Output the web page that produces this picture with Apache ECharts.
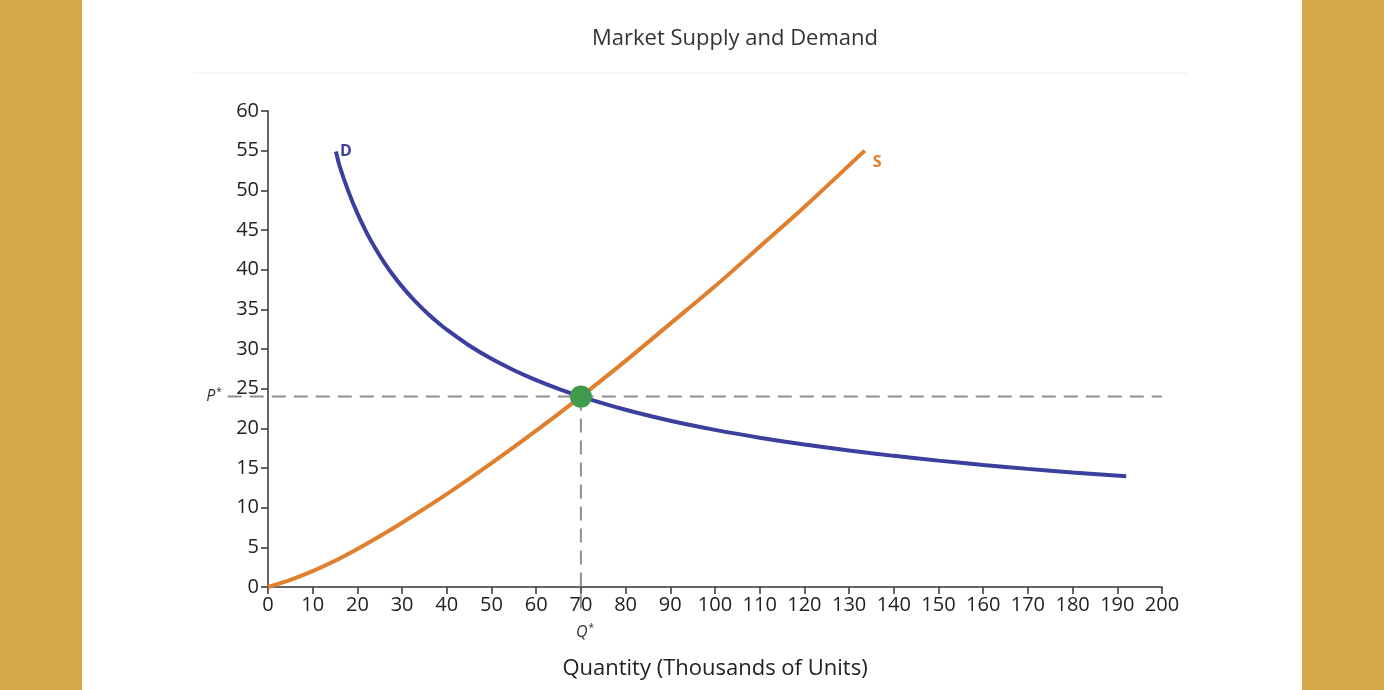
<!DOCTYPE html>
<html>
<head>
<meta charset="utf-8">
<script src="https://cdn.jsdelivr.net/npm/echarts@6/dist/echarts.min.js"></script>
<style>
  html, body { margin: 0; padding: 0; background: #d4a84b; }
  #chart { position: absolute; left: 82px; top: 0; width: 1220px; height: 690px; background: #fff; }
</style>
</head>
<body>
<div id="chart"></div>
<script>
// values (price in $, quantity in thousands)
var demandQty   = [192, 180, 170, 160, 150, 140, 130, 120, 110, 100, 90, 80, 70, 65, 60, 55, 50, 45, 40, 38, 36, 34, 32, 30, 28, 26, 24, 22, 20, 18, 16, 15.2];
var demandPrice = [13.95, 14.44, 14.89, 15.38, 15.93, 16.53, 17.2, 17.96, 18.82, 19.81, 20.96, 22.34, 24, 24.98, 26.08, 27.33, 28.76, 30.44, 32.43, 33.34, 34.32, 35.4, 36.57, 37.86, 39.29, 40.89, 42.69, 44.74, 47.09, 49.84, 53.1, 54.9];
var supplyQty   = [0, 5, 10, 15, 20, 25, 30, 40, 50, 60, 70, 80, 90, 100, 110, 120, 133.5];
var supplyPrice = [0, 0.9, 2, 3.3, 4.8, 6.4, 8.1, 11.7, 15.6, 19.7, 24, 28.5, 33.2, 37.9, 42.9, 47.9, 55];
var eqQty = 70;
var eqPrice = 24;
var guideStartQty = -9;   // the P* guide starts left of the y axis
var guideEndPrice = -3.3; // the Q* guide runs below the x axis
var xTicks = { min: 0, max: 200, step: 10 };
var yTicks = { min: 0, max: 60, step: 5 };

var font = "'Open Sans', 'DejaVu Sans', sans-serif";
var guideColor = '#909090';

function pairs(xs, ys) {
    var out = [];
    for (var i = 0; i < xs.length; i++) {
        out.push([xs[i], ys[i]]);
    }
    return out;
}

var starRich = {
    i: { fontFamily: font, fontStyle: 'italic', fontSize: 16, fill: '#333', color: '#333' },
    s: { fontFamily: font, fontSize: 10, fill: '#333', color: '#333', verticalAlign: 'top', padding: [0, 0, 8, 1] }
};

var chart = echarts.init(document.getElementById('chart'));

var option = {
    animation: false,
    title: {
        text: 'Market Supply and Demand',
        left: 505,
        top: 23,
        textStyle: { fontFamily: font, fontSize: 22, fontWeight: 'normal', color: '#333' }
    },
    grid: { left: 186, right: 140, top: 111, bottom: 103 },
    xAxis: {
        type: 'value',
        min: xTicks.min,
        max: xTicks.max,
        interval: xTicks.step,
        name: 'Quantity (Thousands of Units)',
        nameLocation: 'middle',
        nameGap: 71,
        nameTextStyle: { fontFamily: font, fontSize: 22, color: '#222' },
        axisLine: { show: true, lineStyle: { color: '#333', width: 1.5 } },
        axisTick: { show: true, length: 7, lineStyle: { color: '#333', width: 1.5 } },
        axisLabel: { fontFamily: font, fontSize: 20, color: '#222', margin: 8 },
        splitLine: { show: false }
    },
    yAxis: {
        type: 'value',
        min: yTicks.min,
        max: yTicks.max,
        interval: yTicks.step,
        axisLine: { show: true, lineStyle: { color: '#333', width: 1.5 } },
        axisTick: { show: true, length: 7, lineStyle: { color: '#333', width: 1.5 } },
        axisLabel: { fontFamily: font, fontSize: 20, color: '#222', margin: 9 },
        splitLine: { show: false }
    },
    series: [
        {
            // vertical Q* guide
            type: 'line',
            data: [[eqQty, eqPrice], [eqQty, guideEndPrice]],
            clip: false,
            symbol: 'none',
            silent: true,
            lineStyle: { color: guideColor, width: 2, type: [14, 8] },
            endLabel: {
                show: true,
                formatter: '{i|Q}{s|*}',
                offset: [-13, 19],
                rich: starRich
            },
            z: 1
        },
        {
            name: 'D',
            type: 'line',
            smooth: 0.25,
            symbol: 'none',
            data: pairs(demandQty, demandPrice),
            lineStyle: { color: '#3b3f9e', width: 4 },
            endLabel: {
                show: true,
                formatter: 'D',
                offset: [-4, 0],
                fontFamily: font, fontSize: 16, fontWeight: 'bold', color: '#3b3f9e'
            },
            z: 3
        },
        {
            name: 'S',
            type: 'line',
            smooth: 0.25,
            symbol: 'none',
            data: pairs(supplyQty, supplyPrice),
            lineStyle: { color: '#e07f2e', width: 4 },
            endLabel: {
                show: true,
                formatter: 'S',
                offset: [0, 12],
                fontFamily: font, fontSize: 16, fontWeight: 'bold', color: '#e07f2e'
            },
            z: 3
        },
        {
            type: 'scatter',
            data: [[eqQty, eqPrice]],
            symbolSize: 22,
            itemStyle: { color: '#3f9a4c', opacity: 1 },
            z: 5
        }
    ]
};

chart.setOption(option);

// horizontal P* guide: it leaves the plot area, so place it from the axis scale
var pStart = chart.convertToPixel({ gridIndex: 0 }, [guideStartQty, eqPrice]);
var pEnd = chart.convertToPixel({ gridIndex: 0 }, [xTicks.max, eqPrice]);

chart.setOption({
    graphic: [
        {
            type: 'line',
            shape: { x1: 112, y1: 73, x2: 1106, y2: 73 },
            style: { stroke: '#eeeeee', lineWidth: 1 }
        },
        {
            type: 'line',
            z: 1,
            silent: true,
            shape: { x1: pStart[0], y1: pStart[1], x2: pEnd[0], y2: pEnd[1] },
            style: { stroke: guideColor, lineWidth: 2, lineDash: [14, 8] }
        },
        {
            type: 'text',
            z: 1,
            silent: true,
            x: pStart[0] - 6,
            y: pStart[1],
            style: {
                text: '{i|P}{s|*}',
                align: 'right',
                verticalAlign: 'middle',
                rich: starRich
            }
        }
    ]
});
</script>
</body>
</html>
